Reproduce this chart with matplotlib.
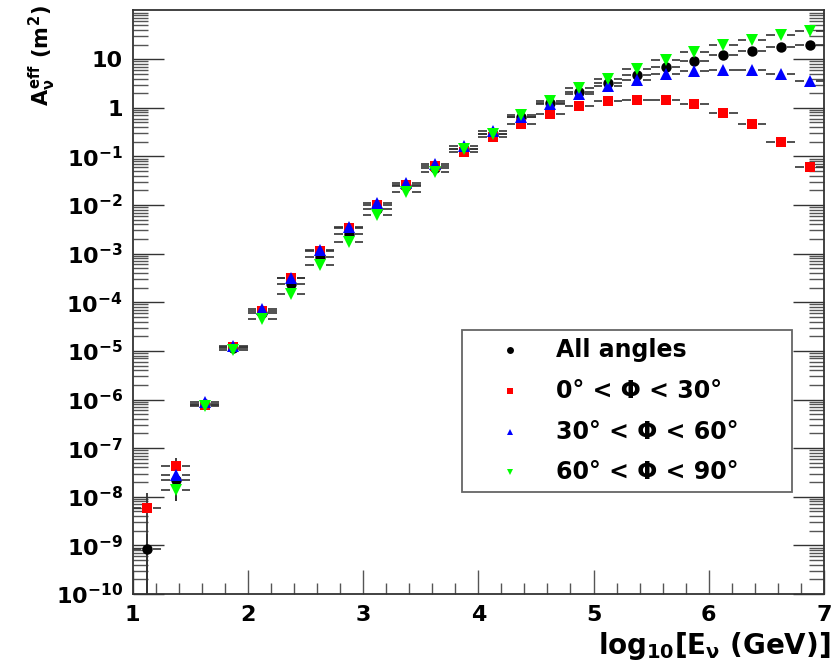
import numpy as np
import matplotlib.pyplot as plt
from matplotlib.patches import Rectangle
from matplotlib.ticker import FixedLocator, LogLocator, NullFormatter, FixedFormatter

plt.rcParams['font.family'] = ['DejaVu Sans']
plt.rcParams['font.weight'] = 'bold'
plt.rcParams['mathtext.fontset'] = 'custom'
plt.rcParams['mathtext.rm'] = 'DejaVu Sans:bold'
plt.rcParams['mathtext.it'] = 'DejaVu Sans:bold'
plt.rcParams['mathtext.bf'] = 'DejaVu Sans:bold'

# bin centres in log10(E/GeV), half width of a bin
log_e = [1.125, 1.375, 1.625, 1.875, 2.125, 2.375, 2.625, 2.875, 3.125, 3.375, 3.625, 3.875,
         4.125, 4.375, 4.625, 4.875, 5.125, 5.375, 5.625, 5.875, 6.125, 6.375, 6.625, 6.875]
half_bin = 0.125

# effective areas (m^2)
a_all = [8.5e-10, 2.2e-8, 8.0e-7, 1.15e-5, 5.9e-5, 2.4e-4, 8.6e-4, 2.5e-3, 8.1e-3, 2.45e-2,
         5.9e-2, 0.14, 0.29, 0.66, 1.25, 2.1, 3.2, 4.8, 6.9, 9.1, 11.9, 14.6, 17.7, 20.0]
a_0_30 = [6.0e-9, 4.2e-8, 7.8e-7, 1.2e-5, 6.5e-5, 3.1e-4, 1.15e-3, 3.3e-3, 1.0e-2, 2.6e-2,
          6.4e-2, 0.125, 0.25, 0.47, 0.76, 1.08, 1.35, 1.47, 1.47, 1.21, 0.79, 0.46, 0.195, 0.060]
a_30_60 = [np.nan, 2.8e-8, 8.8e-7, 1.25e-5, 7.1e-5, 3.2e-4, 1.2e-3, 3.6e-3, 1.08e-2, 2.9e-2,
           7.1e-2, 0.16, 0.33, 0.65, 1.17, 1.9, 2.8, 3.8, 5.0, 5.7, 6.1, 5.9, 4.9, 3.5]
a_60_90 = [np.nan, 1.35e-8, 7.5e-7, 1.05e-5, 4.5e-5, 1.5e-4, 5.8e-4, 1.75e-3, 6.2e-3, 1.85e-2,
           4.8e-2, 0.145, 0.29, 0.70, 1.35, 2.5, 4.0, 6.3, 9.8, 13.9, 20.0, 25.0, 31.6, 37.6]

# vertical errors (only visible in the first bins)
err_all_lo = [8.5e-10, 1.4e-8] + [0.0] * 22
err_all_hi = [8.5e-10, 1.0e-8] + [0.0] * 22
err_030_lo = [6.0e-9, 1.5e-8] + [0.0] * 22
err_030_hi = [6.0e-9, 2.1e-8] + [0.0] * 22
err_6090_lo = [0.0, 5.5e-9] + [0.0] * 22
err_6090_hi = [0.0, 5.0e-9] + [0.0] * 22

labels = ['All angles', '0° < Φ < 30°', '30° < Φ < 60°', '60° < Φ < 90°']
colors = ['black', '#ff0000', '#0000ff', '#00ff00']
markers = ['o', 's', '^', 'v']
msizes = [7.5, 7.5, 8.5, 8.5]

W, H, DPI = 834, 665, 100
fig = plt.figure(figsize=(W / DPI, H / DPI), dpi=DPI)
ax_l, ax_r, ax_t, ax_b = 132.5, 824, 9.5, 594
ax = fig.add_axes([ax_l / W, 1 - ax_b / H, (ax_r - ax_l) / W, (ax_b - ax_t) / H])

x = np.array(log_e)
gap = 0.052
series = [(a_all, err_all_lo, err_all_hi), (a_0_30, err_030_lo, err_030_hi),
          (a_30_60, None, None), (a_60_90, err_6090_lo, err_6090_hi)]

for (vals, lo, hi), c, m, ms in zip(series, colors, markers, msizes):
    y = np.array(vals, dtype=float)
    ok = ~np.isnan(y)
    # horizontal bin-width bars, broken around the marker
    ax.hlines(y[ok], x[ok] - half_bin, x[ok] - gap, color='#333333', lw=1.2, zorder=2)
    ax.hlines(y[ok], x[ok] + gap, x[ok] + half_bin, color='#333333', lw=1.2, zorder=2)
    if lo is not None:
        lo_a = np.array(lo)
        hi_a = np.array(hi)
        sel = ok & (hi_a > 0)
        low_ends = np.where(lo_a[sel] >= y[sel], 1e-12, y[sel] - lo_a[sel])
        ax.vlines(x[sel], low_ends, y[sel] + hi_a[sel], color='#333333', lw=1.3, zorder=2)
    ax.plot(x[ok], y[ok], linestyle='none', marker=m, color=c, markersize=ms,
            markeredgewidth=0, zorder=3)

ax.set_yscale('log')
ax.set_xlim(1, 7)
ax.set_ylim(1e-10, 1.05e2)

# ticks, ROOT style
yt = [10.0 ** k for k in range(-10, 2)]
ytl = ['$10^{%d}$' % k for k in range(-10, 0)] + ['1', '10']
ax.yaxis.set_major_locator(FixedLocator(yt))
ax.yaxis.set_major_formatter(FixedFormatter(ytl))
ax.yaxis.set_minor_locator(LogLocator(base=10, subs=np.arange(2, 10), numticks=100))
ax.yaxis.set_minor_formatter(NullFormatter())
ax.set_xticks([1, 2, 3, 4, 5, 6, 7])
ax.set_xticks(np.arange(1, 7.01, 0.2), minor=True)

ax.tick_params(axis='y', which='major', direction='in', length=22, width=1.0,
               color='#333333', left=True, right=True, labelsize=16, pad=7)
ax.tick_params(axis='y', which='minor', direction='in', length=11, width=1.0,
               color='#555555', left=True, right=True)
ax.tick_params(axis='x', which='major', direction='in', length=17, width=1.0,
               color='#555555', top=False, labelsize=16, pad=8)
ax.tick_params(axis='x', which='minor', direction='in', length=8, width=1.0,
               color='#555555', top=False)
for lab in ax.get_xticklabels() + ax.get_yticklabels():
    lab.set_fontweight('bold')
for s in ax.spines.values():
    s.set_linewidth(1.3)
    s.set_color('#333333')

fig.text(830 / W, 1 - 646 / H, r'$log_{10}[E_{\nu}\ (GeV)]$', ha='right', va='center',
         fontsize=20)
fig.text(42 / W, 1 - 5 / H, r'$A_{\nu}^{eff}\ (m^{2})$', ha='center', va='top',
         rotation=90, fontsize=15)

# legend box, drawn by hand in axes fraction
def to_ax(px, py):
    return (px - ax_l) / (ax_r - ax_l), (ax_b - py) / (ax_b - ax_t)

bx0, by0 = to_ax(461.7, 492)
bx1, by1 = to_ax(791.7, 330)
ax.add_patch(Rectangle((bx0, by0), bx1 - bx0, by1 - by0, transform=ax.transAxes,
                       fill=False, edgecolor='#666666', lw=1.3, zorder=4))
rows = [350, 390.7, 431.7, 471.7]
for lab, c, m, py in zip(labels, colors, markers, rows):
    mx, my = to_ax(510, py)
    tx, _ = to_ax(556, py)
    ax.plot([mx], [my], marker=m, color=c, markersize=5, markeredgewidth=0,
            transform=ax.transAxes, zorder=5)
    ax.text(tx, my, lab, transform=ax.transAxes, fontsize=17, fontweight='bold',
            va='center', ha='left', zorder=5)

fig.savefig('out.png', dpi=DPI)
